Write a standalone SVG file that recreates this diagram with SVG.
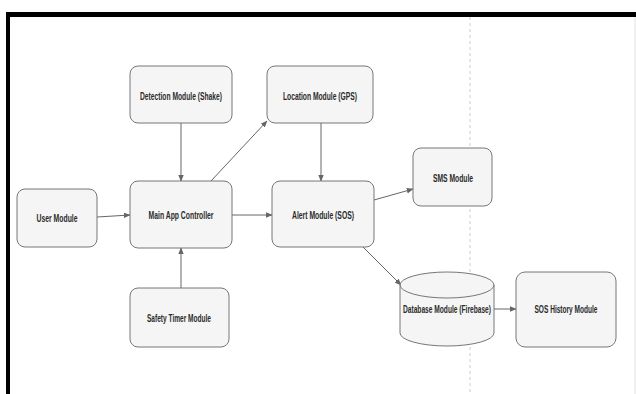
<svg xmlns="http://www.w3.org/2000/svg" width="636" height="394" viewBox="0 0 636 394">
<defs>
<style>
.n{fill:#f5f5f5;stroke:#777;stroke-width:1}
.t{font-family:"Liberation Sans",Arial,sans-serif;font-size:10px;font-weight:bold;fill:#2a2a2a;text-anchor:middle}
.c{stroke:#666;stroke-width:1;fill:none;marker-end:url(#ah)}
</style>
<marker id="ah" viewBox="0 0 10 10" refX="9" refY="5" markerWidth="7" markerHeight="7" markerUnits="userSpaceOnUse" orient="auto">
<path d="M0,1 L10,5 L0,9 z" fill="#666"/>
</marker>
</defs>
<rect x="0" y="0" width="636" height="394" fill="#fff"/>
<g id="frame">
<rect x="6" y="12" width="630" height="5" fill="#000"/>
<rect x="6" y="12" width="4" height="382" fill="#000"/>
<line x1="635" y1="17" x2="635" y2="394" stroke="#e2e2e2" stroke-width="1"/>
<line x1="470" y1="17" x2="470" y2="394" stroke="#ccc" stroke-width="1" stroke-dasharray="3,3"/>
</g>
<g id="connectors">
<line class="c" x1="97" y1="217" x2="130" y2="215"/>
<line class="c" x1="181" y1="123" x2="181" y2="181"/>
<line class="c" x1="181" y1="288" x2="181" y2="248"/>
<line class="c" x1="211" y1="181" x2="267" y2="121"/>
<line class="c" x1="232" y1="215" x2="272" y2="215"/>
<line class="c" x1="321" y1="123" x2="321" y2="181"/>
<line class="c" x1="374" y1="200" x2="413" y2="189"/>
<line class="c" x1="363" y1="247" x2="401" y2="285"/>
<line class="c" x1="494" y1="309" x2="516" y2="309"/>
</g>
<g id="user">
<rect class="n" x="17" y="189" width="80" height="58" rx="8"/>
<text class="t" x="57" y="221.5" textLength="41" lengthAdjust="spacingAndGlyphs">User Module</text>
</g>
<g id="main">
<rect class="n" x="130" y="181" width="102" height="67" rx="8"/>
<text class="t" x="181" y="218.5" textLength="65" lengthAdjust="spacingAndGlyphs">Main App Controller</text>
</g>
<g id="detection">
<rect class="n" x="130" y="66" width="102" height="57" rx="8"/>
<text class="t" x="181" y="99.5" textLength="82" lengthAdjust="spacingAndGlyphs">Detection Module (Shake)</text>
</g>
<g id="location">
<rect class="n" x="267" y="66" width="106" height="57" rx="8"/>
<text class="t" x="320" y="99.5" textLength="74" lengthAdjust="spacingAndGlyphs">Location Module (GPS)</text>
</g>
<g id="safety">
<rect class="n" x="130" y="288" width="99" height="59" rx="8"/>
<text class="t" x="179" y="321.5" textLength="64" lengthAdjust="spacingAndGlyphs">Safety Timer Module</text>
</g>
<g id="alert">
<rect class="n" x="272" y="181" width="102" height="66" rx="8"/>
<text class="t" x="323" y="218.5" textLength="62" lengthAdjust="spacingAndGlyphs">Alert Module (SOS)</text>
</g>
<g id="sms">
<rect class="n" x="413" y="148" width="79" height="58" rx="8"/>
<text class="t" x="453" y="181.5" textLength="40" lengthAdjust="spacingAndGlyphs">SMS Module</text>
</g>
<g id="database">
<path class="n" d="M400,285 A47,13 0 0 1 494,285 L494,333 A47,13 0 0 1 400,333 Z"/>
<path d="M400,285 A47,13 0 0 0 494,285" fill="none" stroke="#777" stroke-width="1"/>
<text class="t" x="447" y="312.5" textLength="88" lengthAdjust="spacingAndGlyphs">Database Module (Firebase)</text>
</g>
<g id="history">
<rect class="n" x="516" y="272" width="100" height="75" rx="9"/>
<text class="t" x="566" y="312.5" textLength="63" lengthAdjust="spacingAndGlyphs">SOS History Module</text>
</g>
</svg>
